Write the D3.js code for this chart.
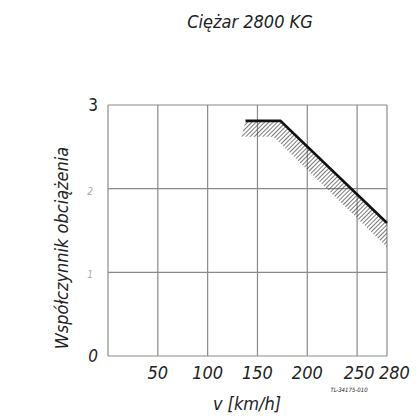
<!DOCTYPE html>
<html>
<head>
<meta charset="utf-8">
<script src="https://cdn.jsdelivr.net/npm/d3@7"></script>
<style>
  body { margin: 0; background: #fff; }
  text { font-family: "DejaVu Sans Condensed", "DejaVu Sans", sans-serif; font-style: italic; fill: #222; }
</style>
</head>
<body>
<div id="chart"></div>
<script>
'use strict';

// data
const xTicks = [50, 100, 150, 200, 250, 280];
const xTickLabels = ['50', '100', '150', '200', '250', '280'];
const yTicks = [0, 1, 2, 3];
const yTickLabels = ['0', '1', '2', '3'];

const lineV = [138, 173, 280];        // heavy line (upper edge)
const lineK = [2.81, 2.81, 1.59];
const hatchV = [134, 166, 280];       // lower edge of hatched band
const hatchK = [2.62, 2.62, 1.30];

const width = 419, height = 418;
const margin = [105, 62, 108, 32]; // top, bottom, left, right

const svg = d3.select('#chart')
    .append('svg')
    .attr('width', width)
    .attr('height', height);

const x = d3.scaleLinear().domain([0, 280]).range([margin[2], width - margin[3]]);
const y = d3.scaleLinear().domain([0, 3]).range([height - margin[1], margin[0]]);

// hatch pattern
const defs = svg.append('defs');
defs.append('pattern')
    .attr('id', 'hatch')
    .attr('patternUnits', 'userSpaceOnUse')
    .attr('width', 3)
    .attr('height', 3)
    .attr('patternTransform', 'rotate(45)')
    .append('line')
    .attr('x1', 0).attr('y1', 0)
    .attr('x2', 0).attr('y2', 3)
    .attr('stroke', '#333')
    .attr('stroke-width', 1.3);

// grid
const grid = svg.append('g').attr('stroke', '#8a8a8a').attr('stroke-width', 1.2);
grid.selectAll('.vline')
    .data([0].concat(xTicks))
    .join('line')
    .attr('x1', d => x(d)).attr('x2', d => x(d))
    .attr('y1', y(3)).attr('y2', y(0));
grid.selectAll('.hline')
    .data(yTicks)
    .join('line')
    .attr('x1', x(0)).attr('x2', x(280))
    .attr('y1', d => y(d)).attr('y2', d => y(d));

// hatched band
const band = lineV.map((v, i) => [v, lineK[i]])
    .concat(hatchV.map((v, i) => [v, hatchK[i]]).reverse());
svg.append('path')
    .attr('d', d3.line().x(d => x(d[0])).y(d => y(d[1]))(band) + 'Z')
    .attr('fill', 'url(#hatch)');

// heavy line
svg.append('path')
    .attr('d', d3.line().x(d => x(d[0])).y(d => y(d[1]))(lineV.map((v, i) => [v, lineK[i]])))
    .attr('fill', 'none')
    .attr('stroke', '#111')
    .attr('stroke-width', 2.6);

// x tick labels
svg.append('g').selectAll('text')
    .data(xTicks)
    .join('text')
    .attr('x', d => x(d))
    .attr('y', 379)
    .attr('text-anchor', d => d === 280 ? 'start' : 'middle')
    .attr('dx', d => d === 280 ? -8 : (d === 250 ? 2 : 0))
    .attr('font-size', 18)
    .text((d, i) => xTickLabels[i]);

// y tick labels
svg.append('g').selectAll('text')
    .data(yTicks)
    .join('text')
    .attr('x', d => d === 0 || d === 3 ? 98 : 93)
    .attr('y', d => y(d) + 6)
    .attr('text-anchor', 'end')
    .attr('font-size', d => d === 0 || d === 3 ? 17 : 10)
    .style('font-style', d => d === 3 ? 'normal' : 'italic')
    .style('fill', d => d === 0 || d === 3 ? '#222' : '#aaa')
    .text((d, i) => yTickLabels[i]);

// title
svg.append('text')
    .attr('x', 250)
    .attr('y', 28)
    .attr('text-anchor', 'middle')
    .attr('font-size', 18)
    .text('Ciężar 2800 KG');

// axis titles
svg.append('text')
    .attr('x', 247)
    .attr('y', 410)
    .attr('text-anchor', 'middle')
    .attr('font-size', 18)
    .text('v  [km/h]');

svg.append('text')
    .attr('transform', 'translate(68,248) rotate(-90)')
    .attr('text-anchor', 'middle')
    .attr('font-size', 18)
    .text('Współczynnik  obciążenia');

// drawing number
svg.append('text')
    .attr('x', 349)
    .attr('y', 392)
    .attr('text-anchor', 'middle')
    .attr('font-size', 6)
    .text('TL-34175-010');
</script>
</body>
</html>
